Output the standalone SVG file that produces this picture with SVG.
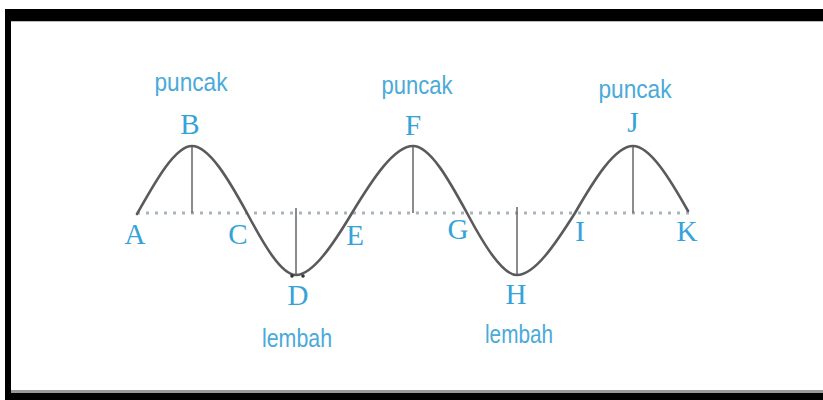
<svg xmlns="http://www.w3.org/2000/svg" width="823" height="400" viewBox="0 0 823 400">
<style>
.lt{font-family:"Liberation Serif","Times New Roman",serif;font-size:29px;fill:#36a3d8;text-anchor:middle}
.wd{font-family:"Liberation Sans",Arial,sans-serif;font-size:26px;fill:#4aaad9;text-anchor:middle}
.vl{stroke:#666;stroke-width:1.5;fill:none}
</style>
<rect x="0" y="0" width="823" height="400" fill="#fff"/>
<g id="frame">
<rect x="5" y="9" width="818" height="12" fill="#000"/>
<rect x="5" y="9" width="6" height="391" fill="#000"/>
<rect x="5" y="393" width="818" height="7" fill="#000"/>
<rect x="11" y="390" width="812" height="3" fill="#999"/>
<rect x="11" y="21" width="812" height="1" fill="#bbb"/>
</g>
<g id="connectors">
<line x1="137" y1="213" x2="690" y2="213" stroke="#aab4bc" stroke-width="3" stroke-dasharray="3 6"/>
<line class="vl" x1="192" y1="146" x2="192" y2="213"/>
<line class="vl" x1="413" y1="146" x2="413" y2="213"/>
<line class="vl" x1="633" y1="146" x2="633" y2="213"/>
<line class="vl" x1="296" y1="208" x2="296" y2="275"/>
<line class="vl" x1="517" y1="207" x2="517" y2="275"/>
<path d="M137,214 C155,182 175,146 192,146 C209,146 229,180 247,213 C263,243 281,275 296,275 C313,275 334,243 352,213 C372,180 394,146 413,146 C430,146 449,180 467,213 C483,243 502,275 517,275 C535,275 556,243 575,213 C594,180 615,146 633,146 C650,146 670,179 688,211" fill="none" stroke="#5a5a5a" stroke-width="2.6" stroke-linecap="round"/>
<circle cx="292" cy="276" r="1.8" fill="#333"/>
<circle cx="303" cy="276" r="1.8" fill="#333"/>
</g>
<g id="labels">
<text class="lt" x="135" y="244">A</text>
<text class="lt" x="190" y="134">B</text>
<text class="lt" x="238" y="244">C</text>
<text class="lt" x="298" y="305">D</text>
<text class="lt" x="355" y="245">E</text>
<text class="lt" x="413" y="135">F</text>
<text class="lt" x="458" y="239">G</text>
<text class="lt" x="516" y="304">H</text>
<text class="lt" x="580" y="241">I</text>
<text class="lt" x="633" y="132">J</text>
<text class="lt" x="687" y="241">K</text>
</g>
<g id="words">
<text class="wd" x="191" y="91" textLength="73" lengthAdjust="spacingAndGlyphs">puncak</text>
<text class="wd" x="417" y="94" textLength="71" lengthAdjust="spacingAndGlyphs">puncak</text>
<text class="wd" x="635" y="98" textLength="73" lengthAdjust="spacingAndGlyphs">puncak</text>
<text class="wd" x="297" y="347" textLength="70" lengthAdjust="spacingAndGlyphs">lembah</text>
<text class="wd" x="519" y="343" textLength="68" lengthAdjust="spacingAndGlyphs">lembah</text>
</g>
</svg>
